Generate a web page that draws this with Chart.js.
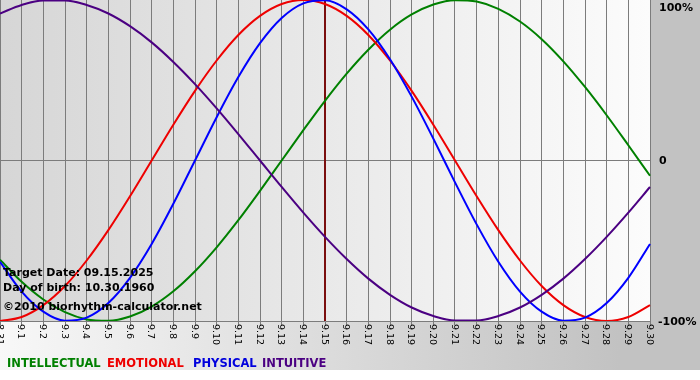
<!DOCTYPE html>
<html>
<head>
<meta charset="utf-8">
<title>Biorhythm</title>
<script src="https://cdn.jsdelivr.net/npm/chart.js@4"></script>
<style>
  html, body { margin: 0; padding: 0; background: #fff; }
  #wrap { width: 700px; height: 380px; }
</style>
</head>
<body>
<div id="wrap"><canvas id="bioChart" width="700" height="380"></canvas></div>
<script>
// ====== DATA ======
const dayLabels = ['8.31', '9.1', '9.2', '9.3', '9.4', '9.5', '9.6', '9.7', '9.8', '9.9', '9.10',
  '9.11', '9.12', '9.13', '9.14', '9.15', '9.16', '9.17', '9.18', '9.19', '9.20',
  '9.21', '9.22', '9.23', '9.24', '9.25', '9.26', '9.27', '9.28', '9.29', '9.30'];

const intellectual = [-0.618, -0.756, -0.866, -0.945, -0.990, -0.999, -0.972, -0.910, -0.815, -0.690, -0.541,
  -0.372, -0.189, 0, 0.189, 0.372, 0.541, 0.690, 0.815, 0.910, 0.972,
  0.999, 0.990, 0.945, 0.866, 0.756, 0.618, 0.458, 0.282, 0.095, -0.095];

const emotional = [-1.000, -0.975, -0.901, -0.782, -0.623, -0.434, -0.223, 0, 0.223, 0.434, 0.623,
  0.782, 0.901, 0.975, 1.000, 0.975, 0.901, 0.782, 0.623, 0.434, 0.223,
  0, -0.223, -0.434, -0.623, -0.782, -0.901, -0.975, -1.000, -0.975, -0.901];

const physical = [-0.631, -0.817, -0.942, -0.998, -0.979, -0.888, -0.731, -0.520, -0.270, 0, 0.270,
  0.520, 0.731, 0.888, 0.979, 0.998, 0.942, 0.817, 0.631, 0.398, 0.136,
  -0.136, -0.398, -0.631, -0.817, -0.942, -0.998, -0.979, -0.888, -0.731, -0.520];

const intuitive = [0.916, 0.969, 0.997, 0.997, 0.969, 0.916, 0.837, 0.736, 0.614, 0.476, 0.325,
  0.165, 0, -0.165, -0.325, -0.476, -0.614, -0.736, -0.837, -0.916, -0.969,
  -0.997, -0.997, -0.969, -0.916, -0.837, -0.736, -0.614, -0.476, -0.325, -0.165];

const yTickLabels = ['100%', '0', '-100%'];
const targetIndex = 15;
const infoLines = ['Target Date: 09.15.2025', 'Day of birth: 10.30.1960', '\u00a92010 biorhythm-calculator.net'];

const legendItems = [
  { text: 'INTELLECTUAL', color: '#008000' },
  { text: 'EMOTIONAL', color: '#ee0000' },
  { text: 'PHYSICAL', color: '#0000dd' },
  { text: 'INTUITIVE', color: '#4b0082' }
];

const FONT = '"DejaVu Sans", Verdana, sans-serif';

// ====== BACKGROUND + DECORATION ======
const bioPlugin = {
  id: 'bioDecor',
  beforeDraw(chart) {
    const ctx = chart.ctx;
    const a = chart.chartArea;
    ctx.save();
    ctx.fillStyle = '#ffffff';
    ctx.fillRect(0, 0, chart.width, chart.height);
    // outer frame gradient
    const outer = ctx.createLinearGradient(0, 0, 620, 0);
    outer.addColorStop(0, '#f8f8f8');
    outer.addColorStop(1, '#c2c2c2');
    ctx.fillStyle = outer;
    ctx.fillRect(0, 0, chart.width, 370);
    // plot gradient
    const inner = ctx.createLinearGradient(a.left, 0, a.right, 0);
    inner.addColorStop(0, '#d6d6d6');
    inner.addColorStop(1, '#fcfcfc');
    ctx.fillStyle = inner;
    ctx.fillRect(a.left, a.top, a.right - a.left, a.bottom - a.top);
    ctx.restore();
  },
  beforeDatasetsDraw(chart) {
    const ctx = chart.ctx;
    const a = chart.chartArea;
    const x = Math.round(chart.scales.x.getPixelForValue(targetIndex));
    ctx.save();
    ctx.strokeStyle = '#7a0e0e';
    ctx.lineWidth = 2;
    ctx.beginPath();
    ctx.moveTo(x, a.top);
    ctx.lineTo(x, a.bottom);
    ctx.stroke();
    ctx.restore();
  },
  afterDatasetsDraw(chart) {
    const ctx = chart.ctx;
    const a = chart.chartArea;
    const xs = chart.scales.x;
    const ys = chart.scales.y;
    ctx.save();

    // info text
    ctx.fillStyle = '#000';
    ctx.font = 'bold 11px ' + FONT;
    ctx.textAlign = 'left';
    ctx.textBaseline = 'alphabetic';
    ctx.fillText(infoLines[0], 3, 276);
    ctx.fillText(infoLines[1], 3, 291);
    ctx.fillText(infoLines[2], 3, 310);

    // right axis labels
    ctx.fillText(yTickLabels[0], 659, 11);
    ctx.textBaseline = 'middle';
    ctx.fillText(yTickLabels[1], 659, ys.getPixelForValue(0) + 1);
    ctx.fillText(yTickLabels[2], 658, ys.getPixelForValue(-1) + 1);

    // x labels, rotated clockwise
    ctx.font = '9.5px ' + FONT;
    ctx.textBaseline = 'middle';
    dayLabels.forEach((lab, i) => {
      const px = xs.getPixelForValue(i);
      ctx.save();
      ctx.translate(px - 1, a.bottom + 3);
      ctx.rotate(Math.PI / 2);
      ctx.fillText(lab, 0, 0);
      ctx.restore();
    });

    // legend
    ctx.font = 'bold 11.5px ' + FONT;
    ctx.textBaseline = 'alphabetic';
    const legendX = [7, 107, 193, 262];
    legendItems.forEach((item, i) => {
      ctx.fillStyle = item.color;
      ctx.fillText(item.text, legendX[i], 367);
    });
    ctx.restore();
  }
};

function makeSet(label, data, color) {
  return {
    label: label,
    data: data,
    borderColor: color,
    borderWidth: 2,
    pointRadius: 0,
    fill: false,
    cubicInterpolationMode: 'monotone'
  };
}

// ====== CHART ======
new Chart(document.getElementById('bioChart').getContext('2d'), {
  type: 'line',
  data: {
    labels: dayLabels,
    datasets: [
      makeSet('INTUITIVE', intuitive, '#4b0082'),
      makeSet('PHYSICAL', physical, '#0000ff'),
      makeSet('EMOTIONAL', emotional, '#ee0000'),
      makeSet('INTELLECTUAL', intellectual, '#008000')
    ]
  },
  options: {
    responsive: false,
    animation: false,
    devicePixelRatio: 1,
    layout: { padding: { left: 0, top: 0, right: 50, bottom: 55 } },
    plugins: {
      legend: { display: false },
      tooltip: { enabled: false }
    },
    scales: {
      x: {
        offset: false,
        ticks: { display: false },
        grid: { color: '#7c7c7c', lineWidth: 1, drawTicks: true, tickLength: 4 },
        border: { display: true, color: '#7c7c7c' }
      },
      y: {
        position: 'right',
        min: -1,
        max: 1,
        ticks: { display: false, stepSize: 1 },
        grid: {
          drawTicks: false,
          color: ctx => (ctx.tick && ctx.tick.value === 0 ? '#7c7c7c' : 'rgba(0,0,0,0)')
        },
        border: { display: false }
      }
    }
  },
  plugins: [bioPlugin]
});
</script>
</body>
</html>
